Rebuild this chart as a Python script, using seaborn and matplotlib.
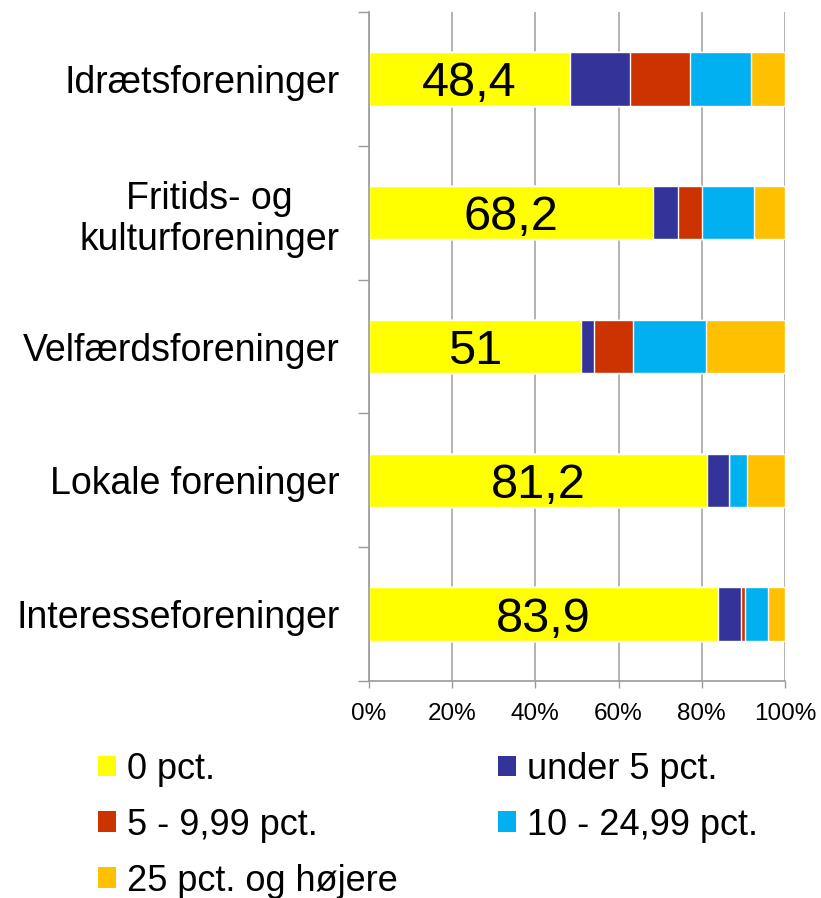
import matplotlib.pyplot as plt
import numpy as np
import pandas as pd
import seaborn as sns
from matplotlib.patches import Patch

# Data (andel i pct.)
categories = ['Idrætsforeninger', 'Fritids- og\nkulturforeninger', 'Velfærdsforeninger',
              'Lokale foreninger', 'Interesseforeninger']
series_names = ['0 pct.', 'under 5 pct.', '5 - 9,99 pct.', '10 - 24,99 pct.', '25 pct. og højere']
pct_0 = [48.4, 68.2, 51.0, 81.2, 83.9]
pct_under5 = [14.3, 6.1, 3.1, 5.4, 5.6]
pct_5_10 = [14.6, 5.8, 9.4, 0.0, 1.0]
pct_10_25 = [14.6, 12.5, 17.6, 4.4, 5.4]
pct_25_up = [8.1, 7.4, 18.9, 9.0, 4.1]
bar_labels = ['48,4', '68,2', '51', '81,2', '83,9']
colors = ['#FFFF00', '#333399', '#CC3300', '#00B0F0', '#FFC000']

sns.set_style('white')
plt.rcParams['font.family'] = ['Liberation Sans', 'DejaVu Sans']
plt.rcParams['text.color'] = 'black'
plt.rcParams['xtick.labelcolor'] = 'black'
plt.rcParams['ytick.labelcolor'] = 'black'

df = pd.DataFrame({'kategori': categories,
                   series_names[0]: pct_0, series_names[1]: pct_under5,
                   series_names[2]: pct_5_10, series_names[3]: pct_10_25,
                   series_names[4]: pct_25_up})
# kumulerede summer -> tegnes bagfra så hver bar ligger oven på den forrige
cum = df[series_names].cumsum(axis=1)

fig = plt.figure(figsize=(8.21, 8.98), dpi=100)
ax = fig.add_axes([0.4494, 0.2416, 0.5066, 0.745])

for name, col in reversed(list(zip(series_names, colors))):
    sns.barplot(x=cum[name], y=df['kategori'], color=col, orient='h', width=0.4,
                saturation=1, errorbar=None, ax=ax, zorder=2)

txts = ax.bar_label(ax.containers[-1], labels=bar_labels, label_type='center', fontsize=35,
                    color='black')
for t in txts:
    t.set_va('center_baseline')

ax.set_xlim(0, 100)
ax.set_ylim(4.5, -0.5)
ax.set_xticks(np.arange(0, 101, 20))
ax.set_xticklabels([f'{v}%' for v in range(0, 101, 20)], fontsize=17.5)
ax.set_yticks(range(len(categories)))
ax.set_yticklabels(categories, fontsize=27, multialignment='center')
ax.set_yticks(np.arange(-0.5, 5, 1), minor=True)
ax.tick_params(axis='y', which='major', length=0, pad=21)
ax.tick_params(axis='y', which='minor', length=8, width=1, color='#9a9a9a', direction='out', left=True)
ax.tick_params(axis='x', length=5, width=1, color='#9a9a9a', direction='out', bottom=True, pad=11)
ax.set_xlabel('')
ax.set_ylabel('')

ax.grid(axis='x', color='#a6a6a6', linewidth=1.2, zorder=0)
ax.set_axisbelow(True)
for s in ['top', 'right']:
    ax.spines[s].set_visible(False)
for s in ['left', 'bottom']:
    ax.spines[s].set_color('#9a9a9a')
    ax.spines[s].set_linewidth(1.2)

# legende: to kolonner, udfyldes kolonnevis
order = [0, 2, 4, 1, 3]
handles = [Patch(facecolor=colors[i], edgecolor='none') for i in order]
labels = [series_names[i] for i in order]
fig.legend(handles, labels, loc='upper left', bbox_to_anchor=(0.119, 0.163), ncol=2,
           fontsize=26, frameon=False, handlelength=0.5, handleheight=0.5,
           handletextpad=0.3, columnspacing=2.78, labelspacing=0.58, borderpad=0,
           borderaxespad=0)

fig.savefig('out.png', dpi=100)
